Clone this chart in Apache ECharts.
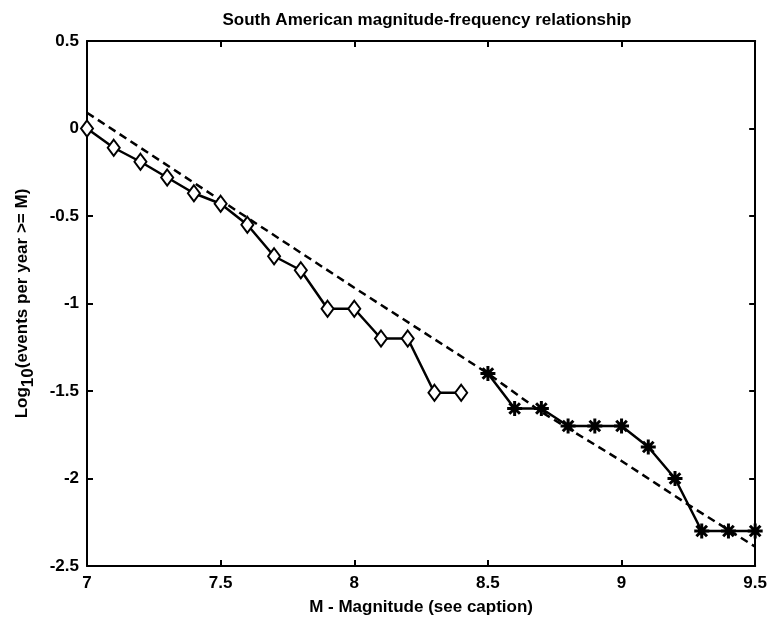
<!DOCTYPE html>
<html>
<head>
<meta charset="utf-8">
<script src="https://cdn.jsdelivr.net/npm/echarts@6/dist/echarts.min.js"></script>
<style>
html,body{margin:0;padding:0;background:#fff;}
#chart{width:770px;height:624px;}
</style>
</head>
<body>
<div id="chart"></div>
<script>
// Observed data (diamonds), M 7.0 .. 8.4
const diamondM = [7.0, 7.1, 7.2, 7.3, 7.4, 7.5, 7.6, 7.7, 7.8, 7.9, 8.0, 8.1, 8.2, 8.3, 8.4];
const diamondLog = [0.0, -0.11, -0.19, -0.28, -0.37, -0.43, -0.55, -0.73, -0.81, -1.03, -1.03, -1.2, -1.2, -1.51, -1.51];
// Historical data (asterisks), M 8.5 .. 9.5
const starM = [8.5, 8.6, 8.7, 8.8, 8.9, 9.0, 9.1, 9.2, 9.3, 9.4, 9.5];
const starLog = [-1.4, -1.6, -1.6, -1.7, -1.7, -1.7, -1.82, -2.0, -2.3, -2.3, -2.3];
// Model (dashed)
const modelM = [7.0, 7.5, 8.0, 8.5, 8.7, 9.0, 9.25, 9.5];
const modelLog = [0.09, -0.41, -0.91, -1.40, -1.62, -1.90, -2.15, -2.39];
// Axis ticks
const xTicks = [7, 7.5, 8, 8.5, 9, 9.5];
const yTicks = [0.5, 0, -0.5, -1, -1.5, -2, -2.5];

const FONT = 'Liberation Sans';
const FS = 17;
const asterisk = 'path://M-6 -1.2 L6 -1.2 L6 1.2 L-6 1.2 Z M-1.2 -6 L1.2 -6 L1.2 6 L-1.2 6 Z M-3.394 -5.091 L5.091 3.394 L3.394 5.091 L-5.091 -3.394 Z M-5.091 3.394 L3.394 -5.091 L5.091 -3.394 L-3.394 5.091 Z';

const zip = (a, b) => a.map((v, i) => [v, b[i]]);

const chart = echarts.init(document.getElementById('chart'), null, {renderer: 'canvas'});
const axisCommon = {
  type: 'value',
  axisLine: {show: true, onZero: false, lineStyle: {color: '#000', width: 2}},
  axisTick: {show: true, inside: true, length: 6, lineStyle: {color: '#000', width: 2}},
  splitLine: {show: false}
};
const txt = {fontFamily: FONT, fontWeight: 'bold', fontSize: FS, color: '#000'};
chart.setOption({
  animation: false,
  backgroundColor: '#fff',
  title: {
    text: 'South American magnitude-frequency relationship',
    left: 422, top: 7, textAlign: 'center',
    textStyle: Object.assign({}, txt)
  },
  grid: {left: 87, right: 12, top: 41, bottom: 58, containLabel: false},
  xAxis: [
    Object.assign({}, axisCommon, {
      min: xTicks[0], max: xTicks[xTicks.length - 1], interval: 0.5, position: 'bottom',
      name: 'M - Magnitude (see caption)', nameLocation: 'middle', nameGap: 33,
      nameTextStyle: Object.assign({}, txt),
      axisLabel: Object.assign({margin: 9}, txt)
    }),
    Object.assign({}, axisCommon, {
      min: xTicks[0], max: xTicks[xTicks.length - 1], interval: 0.5, position: 'top',
      axisLabel: {show: false}
    })
  ],
  yAxis: [
    Object.assign({}, axisCommon, {
      min: yTicks[yTicks.length - 1], max: yTicks[0], interval: 0.5, position: 'left',
      name: 'Log{sub|10}(events per year >= M)', nameLocation: 'middle', nameGap: 50, nameRotate: 90,
      nameTextStyle: Object.assign({
        rich: {sub: Object.assign({padding: [12, 0, 0, 0]}, txt)}
      }, txt),
      axisLabel: Object.assign({margin: 8}, txt)
    }),
    Object.assign({}, axisCommon, {
      min: yTicks[yTicks.length - 1], max: yTicks[0], interval: 0.5, position: 'right',
      axisLabel: {show: false}
    })
  ],
  series: [
    {
      type: 'line', data: zip(modelM, modelLog), symbol: 'none',
      lineStyle: {color: '#000', width: 2.5, type: [8, 5]}, z: 2
    },
    {
      type: 'line', data: zip(diamondM, diamondLog), symbol: 'diamond', symbolSize: [12, 16],
      lineStyle: {color: '#000', width: 2.5},
      itemStyle: {color: '#fff', borderColor: '#000', borderWidth: 2}, z: 3
    },
    {
      type: 'line', data: zip(starM, starLog), symbol: asterisk, symbolSize: 15,
      lineStyle: {color: '#000', width: 2.5},
      itemStyle: {color: '#000', borderWidth: 0}, z: 3
    }
  ]
});
</script>
</body>
</html>
